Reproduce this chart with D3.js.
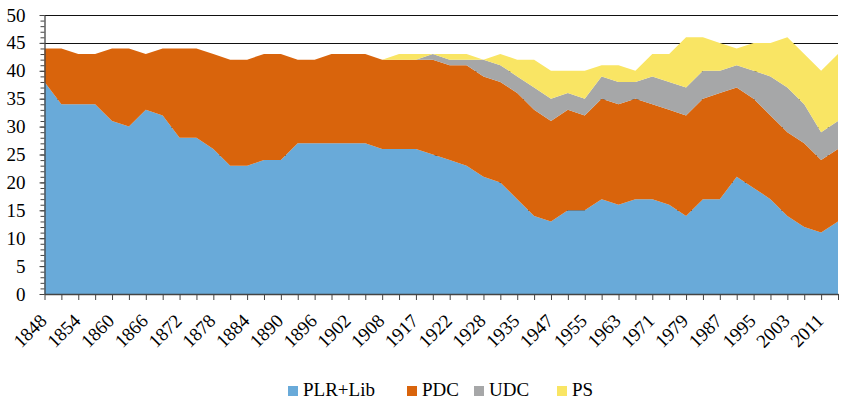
<!DOCTYPE html>
<html>
<head>
<meta charset="utf-8">
<script src="https://cdn.jsdelivr.net/npm/d3@7"></script>
<style>
  body { margin: 0; background: #fff; }
  svg text { font-family: "Liberation Serif", "Times New Roman", serif; }
</style>
</head>
<body>
<div id="chart"></div>
<script>
// election years (every other one gets a label)
var years = [1848, 1851, 1854, 1857, 1860, 1863, 1866, 1869, 1872, 1875, 1878, 1881,
  1884, 1887, 1890, 1893, 1896, 1899, 1902, 1905, 1908, 1911, 1917, 1920, 1922, 1925,
  1928, 1931, 1935, 1939, 1947, 1951, 1955, 1959, 1963, 1967, 1971, 1975, 1979, 1983,
  1987, 1991, 1995, 1999, 2003, 2007, 2011, 2015]

// seats per party
var plrLib = [38, 34, 34, 34, 31, 30, 33, 32, 28, 28, 26, 23, 23, 24, 24, 27, 27, 27, 27, 27,
  26, 26, 26, 25, 24, 23, 21, 20, 17, 14, 13, 15, 15, 17, 16, 17, 17, 16, 14, 17,
  17, 21, 19, 17, 14, 12, 11, 13]
var pdc = [6, 10, 9, 9, 13, 14, 10, 12, 16, 16, 17, 19, 19, 19, 19, 15, 15, 16, 16, 16,
  16, 16, 16, 17, 17, 18, 18, 18, 19, 19, 18, 18, 17, 18, 18, 18, 17, 17, 18, 18,
  19, 16, 16, 15, 15, 15, 13, 13]
var udc = [0, 0, 0, 0, 0, 0, 0, 0, 0, 0, 0, 0, 0, 0, 0, 0, 0, 0, 0, 0,
  0, 0, 0, 1, 1, 1, 3, 3, 3, 4, 4, 3, 3, 4, 4, 3, 5, 5, 5, 5,
  4, 4, 5, 7, 8, 7, 5, 5]
var ps = [0, 0, 0, 0, 0, 0, 0, 0, 0, 0, 0, 0, 0, 0, 0, 0, 0, 0, 0, 0,
  0, 1, 1, 0, 1, 1, 0, 2, 3, 5, 5, 4, 5, 2, 3, 2, 4, 5, 9, 6,
  5, 3, 5, 6, 9, 9, 11, 12]

var parties = ["PLR+Lib", "PDC", "UDC", "PS"]
var colors = ["#69aad9", "#d9640c", "#a6a7a8", "#f9e564"]

var width = 841, height = 402
var margin = {top: 15, right: 3, bottom: 108, left: 44.5}

var svg = d3.select("#chart").append("svg")
  .attr("width", width)
  .attr("height", height)

var table = years.map(function(y, i) {
  return {year: y, "PLR+Lib": plrLib[i], "PDC": pdc[i], "UDC": udc[i], "PS": ps[i]}
})

var x = d3.scalePoint().domain(years).range([margin.left, width - margin.right])
var y = d3.scaleLinear().domain([0, 50]).range([height - margin.bottom, margin.top])

// gridlines (behind the areas)
svg.append("g")
  .selectAll("line")
  .data(d3.range(5, 51, 5))
  .enter()
  .append("line")
  .attr("x1", margin.left)
  .attr("x2", width - margin.right)
  .attr("y1", function(d) { return Math.round(y(d)) + 0.5 })
  .attr("y2", function(d) { return Math.round(y(d)) + 0.5 })
  .attr("stroke", "#111")
  .attr("stroke-width", 1.2)

var series = d3.stack().keys(parties)(table)

var area = d3.area()
  .x(function(d) { return x(d.data.year) })
  .y0(function(d) { return y(d[0]) })
  .y1(function(d) { return y(d[1]) })

svg.append("g")
  .selectAll("path")
  .data(series)
  .enter()
  .append("path")
  .attr("fill", function(d, i) { return colors[i] })
  .attr("d", area)

// y axis with minor ticks
var yMinor = svg.append("g")
  .attr("transform", "translate(" + margin.left + ",0)")
  .call(d3.axisLeft(y).tickValues(d3.range(0, 51, 1)).tickSize(4).tickFormat(""))
yMinor.select(".domain").remove()
yMinor.selectAll("line").attr("stroke", "#444")

var yAxis = svg.append("g")
  .attr("transform", "translate(" + margin.left + ",0)")
  .call(d3.axisLeft(y).tickValues(d3.range(0, 51, 5)).tickSize(5).tickSizeOuter(0).tickPadding(14))
yAxis.select(".domain").attr("stroke", "#444").attr("stroke-width", 1.3)
yAxis.selectAll("line").attr("stroke", "#444")
yAxis.selectAll("text")
  .attr("font-size", "19px")
  .attr("fill", "#000")
  .style("font-family", "Liberation Serif")

// x axis: tick on every year, label on every other one
var xAxis = svg.append("g")
  .attr("transform", "translate(0," + y(0) + ")")
  .call(d3.axisBottom(x).tickSize(6).tickSizeOuter(0)
    .tickFormat(function(d, i) { return i % 2 === 0 ? d : "" }))
xAxis.select(".domain").attr("stroke", "#444").attr("stroke-width", 1.5)
xAxis.selectAll("line").attr("stroke", "#444")
xAxis.selectAll("text")
  .attr("font-size", "19px")
  .attr("fill", "#000")
  .style("font-family", "Liberation Serif")
  .attr("text-anchor", "end")
  .attr("x", 0)
  .attr("y", 0)
  .attr("dy", 0)
  .attr("transform", "translate(3,28) rotate(-45)")

// legend
var legendX = [288, 407, 474, 557]
var legend = svg.append("g")
  .selectAll("g")
  .data(parties)
  .enter()
  .append("g")
  .attr("transform", function(d, i) { return "translate(" + legendX[i] + ",386)" })

legend.append("rect")
  .attr("width", 10)
  .attr("height", 10)
  .attr("fill", function(d, i) { return colors[i] })

legend.append("text")
  .attr("x", 15)
  .attr("y", 10)
  .attr("font-size", "19px")
  .text(function(d) { return d })
</script>
</body>
</html>
